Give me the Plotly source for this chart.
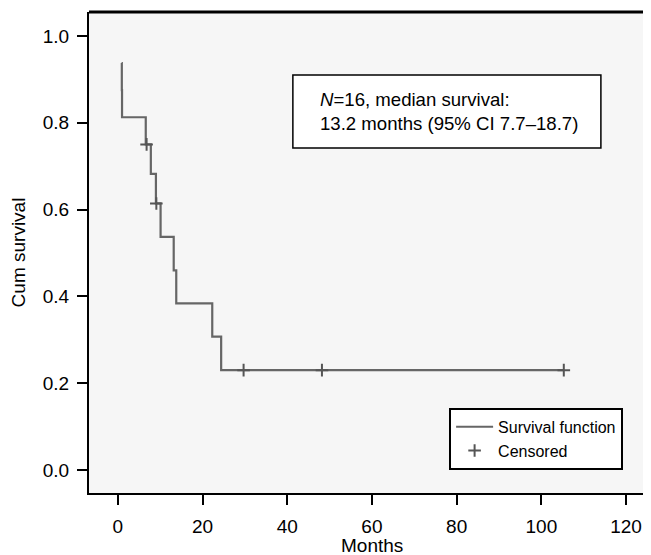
import plotly.graph_objects as go

# Kaplan-Meier step points (months, cumulative survival)
step_months = [0.9, 0.95, 1.0, 6.6, 7.8, 9.0, 10.1, 13.2, 13.8, 22.3, 24.4, 105.3]
step_survival = [0.9375, 0.875, 0.8125, 0.75, 0.682, 0.614, 0.537, 0.460, 0.384, 0.307, 0.230, 0.230]

# Censored observations
censor_months = [6.8, 9.1, 29.7, 48.2, 105.3]
censor_survival = [0.75, 0.614, 0.230, 0.230, 0.230]

x_ticks = [0, 20, 40, 60, 80, 100, 120]
y_ticks = [0.0, 0.2, 0.4, 0.6, 0.8, 1.0]

FONT = "Liberation Sans, Arial, sans-serif"

fig = go.Figure()
fig.add_trace(go.Scatter(
    x=step_months, y=step_survival, mode="lines", line_shape="hv",
    line=dict(color="#666666", width=2.2), name="Survival function",
))
fig.add_trace(go.Scatter(
    x=censor_months, y=censor_survival, mode="markers",
    marker=dict(symbol="cross-thin", size=9, line=dict(color="#555555", width=2)),
    name="Censored",
))

fig.add_shape(type="rect", xref="paper", yref="paper",
              x0=0.368, x1=0.924, y0=0.717, y1=0.869,
              line=dict(color="black", width=1.5), fillcolor="white", layer="above")
fig.add_annotation(
    xref="paper", yref="paper", x=0.413, y=0.793, xanchor="left", yanchor="middle",
    align="left", showarrow=False,
    text="<i>N</i>=16, median survival:<br>13.2 months (95% CI 7.7–18.7)",
    font=dict(family=FONT, size=18.6, color="black"),
)
# x-axis title
fig.add_annotation(
    xref="x", yref="paper", x=60, y=-0.11, xanchor="center", yanchor="middle",
    showarrow=False, text="Months", font=dict(family=FONT, size=19, color="black"),
)

# the page body has an 8px margin: figure is sized/offset to compensate
fig.update_layout(
    width=643, height=547,
    margin=dict(l=81, r=8, t=4, b=62),
    paper_bgcolor="white", plot_bgcolor="#f6f6f6",
    font=dict(family=FONT, size=19, color="black"),
    legend=dict(x=0.65, y=0.177, xanchor="left", yanchor="top",
                bgcolor="white", bordercolor="black", borderwidth=2,
                font=dict(family=FONT, size=16), tracegroupgap=0, itemwidth=37),
    xaxis=dict(
        range=[-6.8, 124], tickvals=x_ticks, ticktext=[str(v) for v in x_ticks],
        ticks="outside", ticklen=10, tickwidth=2, tickcolor="black",
        ticklabelstandoff=5,
        showline=True, linecolor="black", linewidth=2, mirror=False,
        showgrid=False, zeroline=False, automargin=False,
    ),
    yaxis=dict(
        range=[-0.053, 1.055], tickvals=y_ticks, ticktext=[f"{v:.1f}" for v in y_ticks],
        ticks="outside", ticklen=10, tickwidth=2, tickcolor="black",
        ticklabelstandoff=4,
        showline=True, linecolor="black", linewidth=2,
        showgrid=False, zeroline=False, automargin=False,
        title=dict(text="Cum survival", standoff=12, font=dict(size=19)),
    ),
)
fig.add_shape(type="line", xref="paper", yref="paper", x0=0, x1=1.02, y0=1, y1=1,
              line=dict(color="black", width=3))

fig.write_html("out.html")
